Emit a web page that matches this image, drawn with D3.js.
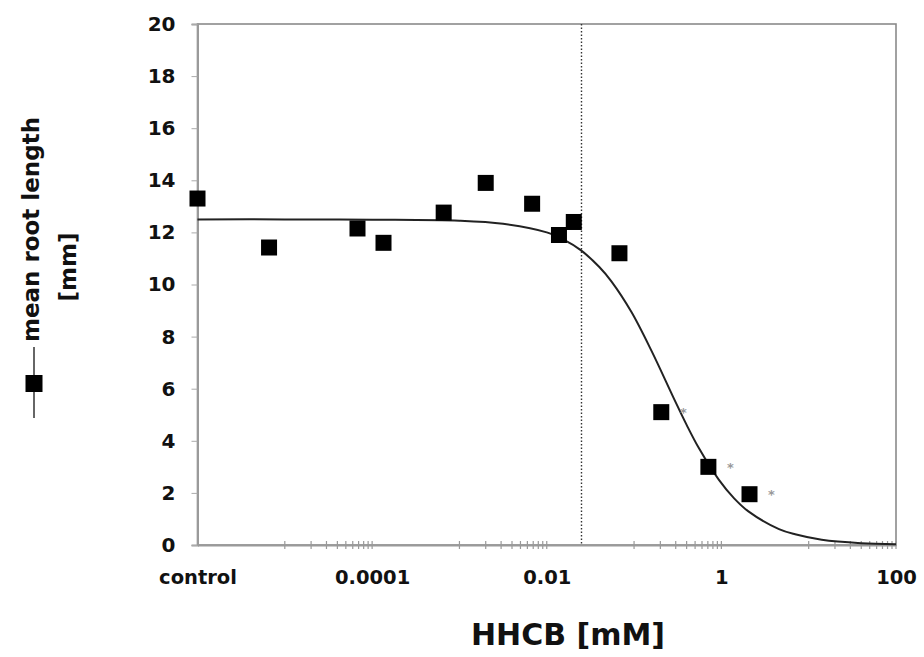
<!DOCTYPE html>
<html>
<head>
<meta charset="utf-8">
<script src="https://cdn.jsdelivr.net/npm/d3@7/dist/d3.min.js"></script>
<style>
  html, body { margin: 0; padding: 0; background: #fff; }
  svg { display: block; }
  text { font-family: "DejaVu Sans", Verdana, sans-serif; font-weight: bold; fill: #111; }
</style>
</head>
<body>
<svg id="chart" width="924" height="657"></svg>
<script>
// ---- data ----
const concentrations = [1e-6, 6.6e-6, 6.8e-5, 1.35e-4, 6.6e-4, 2.0e-3, 6.8e-3, 0.0138, 0.0204, 0.068, 0.205, 0.71, 2.1];
const rootLength     = [13.3, 11.42, 12.15, 11.6, 12.76, 13.9, 13.1, 11.9, 12.4, 11.2, 5.1, 3.0, 1.95];
const significant    = [false, false, false, false, false, false, false, false, false, false, true, true, true];

// fitted dose-response curve
const curveConc  = [1e-6, 1e-5, 1e-4, 1e-3, 3.16e-3, 0.01, 0.0158, 0.0245, 0.04, 0.055, 0.093, 0.158, 0.288, 0.4, 0.55, 0.933, 1.4, 2.04, 4.57, 7, 14.1, 39.8, 100];
const curveValue = [12.5, 12.5, 12.49, 12.45, 12.33, 12.0, 11.71, 11.32, 10.67, 10.12, 8.95, 7.46, 5.6, 4.61, 3.73, 2.51, 1.79, 1.29, 0.61, 0.41, 0.2, 0.07, 0.03];

const xTickValues = [1e-6, 1e-4, 1e-2, 1, 100];
const xTickLabels = ["control", "0.0001", "0.01", "1", "100"];
const minorDecades = [-5, -3, -1, 1];
const yTickValues = [0, 2, 4, 6, 8, 10, 12, 14, 16, 18, 20];
const refLineConc = 0.025;

// ---- layout ----
const svg = d3.select("#chart");
const plotL = 197.5, plotR = 896, plotT = 24, plotB = 545;

const x = d3.scaleLog().domain([1e-6, 100]).range([plotL, plotR]);
const y = d3.scaleLinear().domain([0, 20]).range([plotB, plotT]);

// frame
svg.append("rect")
  .attr("x", plotL).attr("y", plotT)
  .attr("width", plotR - plotL).attr("height", plotB - plotT)
  .attr("fill", "none").attr("stroke", "#8a8a8a").attr("stroke-width", 1.6);

// y axis
const yAxis = d3.axisLeft(y).tickValues(yTickValues).tickSize(6).tickPadding(16);
const gy = svg.append("g").attr("transform", `translate(${plotL},0)`).call(yAxis);
gy.select(".domain").attr("stroke", "#9a9a9a").attr("stroke-width", 2);
gy.selectAll(".tick line").attr("stroke", "#aaa").attr("stroke-width", 1);
gy.selectAll(".tick text").style("font-size", "20px").style("font-family", "DejaVu Sans, sans-serif")
  .style("font-weight", "bold").attr("fill", "#111");

// x axis (labels)
const xAxis = d3.axisBottom(x).tickValues(xTickValues)
  .tickFormat((d, i) => xTickLabels[i]).tickSize(0).tickPadding(25);
const gx = svg.append("g").attr("transform", `translate(0,${plotB})`).call(xAxis);
gx.select(".domain").attr("stroke", "#9a9a9a").attr("stroke-width", 2);
gx.selectAll(".tick text").style("font-size", "19.5px").style("font-family", "DejaVu Sans, sans-serif")
  .style("font-weight", "bold").attr("fill", "#111");

// minor ticks crossing the x axis
const minorTicks = [];
minorDecades.forEach(d => { for (let k = 1; k <= 10; k++) minorTicks.push(k * Math.pow(10, d)); });
svg.append("g").selectAll("line").data(minorTicks).join("line")
  .attr("x1", d => x(d)).attr("x2", d => x(d))
  .attr("y1", plotB - 4).attr("y2", plotB + 4)
  .attr("stroke", "#999").attr("stroke-width", 1.2);

// dotted reference line
svg.append("line")
  .attr("x1", x(refLineConc)).attr("x2", x(refLineConc))
  .attr("y1", plotT).attr("y2", plotB)
  .attr("stroke", "#333").attr("stroke-width", 1.4).attr("stroke-dasharray", "1.5,2");

// fitted curve
const curveData = curveConc.map((c, i) => [c, curveValue[i]]);
svg.append("path").datum(curveData)
  .attr("d", d3.line().x(d => x(d[0])).y(d => y(d[1])).curve(d3.curveCatmullRom.alpha(0.5)))
  .attr("fill", "none").attr("stroke", "#222").attr("stroke-width", 2);

// data points
const pts = concentrations.map((c, i) => ({ c, v: rootLength[i], s: significant[i] }));
const sq = 16;
svg.append("g").selectAll("rect").data(pts).join("rect")
  .attr("x", d => x(d.c) - sq / 2).attr("y", d => y(d.v) - sq / 2)
  .attr("width", sq).attr("height", sq).attr("fill", "#000");

// significance asterisks
svg.append("g").selectAll("text").data(pts.filter(d => d.s)).join("text")
  .attr("x", d => x(d.c) + 22).attr("y", d => y(d.v) + 5)
  .attr("text-anchor", "middle")
  .style("font-size", "13px").style("fill", "#999")
  .text("*");

// x axis title
svg.append("text")
  .attr("x", 568).attr("y", 645)
  .attr("text-anchor", "middle")
  .style("font-size", "30px")
  .text("HHCB [mM]");

// y axis title with legend symbol
const ty = svg.append("g");
const cy = 267;
ty.append("line").attr("x1", 34).attr("x2", 34).attr("y1", 347).attr("y2", 418)
  .attr("stroke", "#666").attr("stroke-width", 2);
ty.append("rect").attr("x", 34 - 8.5).attr("y", 383.5 - 8.5).attr("width", 17).attr("height", 17).attr("fill", "#000");
ty.append("text")
  .attr("transform", `translate(39,${(117 + 342) / 2}) rotate(-90)`)
  .attr("text-anchor", "middle")
  .style("font-size", "23px")
  .text("mean root length");
ty.append("text")
  .attr("transform", `translate(76,${cy}) rotate(-90)`)
  .attr("text-anchor", "middle")
  .style("font-size", "23px")
  .text("[mm]");
</script>
</body>
</html>
